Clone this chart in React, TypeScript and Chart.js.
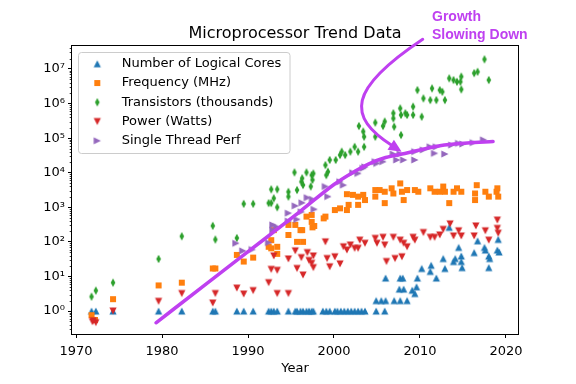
import React, { useEffect, useRef } from "react";
import { Chart, registerables } from "chart.js";

Chart.register(...registerables);

// ---------- data (year, value) ----------
const coresData: [number, number][] = [
  [1971.8, 1], [1972.3, 1], [1974.3, 1], [1979.6, 1], [1982.3, 1], [1985.9, 1], [1986.2, 1], [1988.7, 1],
  [1989.5, 1], [1990.6, 1], [1992.4, 1], [1992.7, 1], [1993.0, 1], [1993.4, 1], [1994.7, 1], [1995.5, 1],
  [1995.7, 1], [1996.1, 1], [1996.4, 1], [1996.8, 1], [1997.1, 1], [1997.4, 1], [1997.6, 1], [1998.7, 1],
  [1999.1, 1], [1999.5, 1], [2000.1, 1], [2000.4, 1], [2000.8, 1], [2001.2, 1], [2001.6, 1], [2002.0, 1],
  [2002.4, 1], [2002.8, 1], [2003.2, 1], [2003.6, 1], [2004.9, 1], [2005.9, 1],
  [2004.9, 2], [2005.5, 2], [2006.0, 2], [2007.0, 2], [2007.7, 2], [2008.5, 2],
  [2007.6, 4.3], [2008.1, 4.3], [2009.1, 4], [2009.4, 3.2], [2009.6, 5],
  [2006.0, 9], [2007.7, 9], [2008.0, 9], [2009.7, 9], [2011.9, 9],
  [2010.2, 17], [2011.3, 21], [2011.2, 14], [2012.7, 33], [2012.9, 17], [2013.9, 27], [2014.1, 33],
  [2014.5, 69], [2014.8, 39], [2014.8, 27], [2014.9, 18], [2013.4, 263], [2016.3, 49], [2016.7, 107],
  [2017.5, 69], [2017.6, 58], [2018.0, 39], [2018.1, 33], [2018.0, 18], [2019.1, 118], [2019.0, 58], [2019.2, 51],
];

const frequencyData: [number, number][] = [
  [1971.8, 0.76], [1972.2, 0.55], [1974.3, 2.2], [1979.6, 5.5], [1982.3, 6.6], [1985.9, 17], [1986.2, 17],
  [1988.7, 42], [1989.5, 27], [1990.6, 35], [1992.4, 72], [1992.7, 112], [1992.7, 65], [1993.4, 72],
  [1993.4, 45], [1993.0, 219], [1994.7, 158], [1994.7, 309], [1995.5, 309], [1996.1, 219], [1996.4, 100],
  [1996.8, 537], [1997.4, 603], [1997.5, 263], [1997.7, 288], [1995.7, 100], [1996.3, 219], [1997.4, 380],
  [1999.0, 537], [1998.8, 479], [2000.1, 832], [2000.7, 933], [2001.5, 832], [2001.7, 1175], [2001.5, 2400],
  [2002.2, 2290], [2002.8, 2040], [2002.8, 1175], [2003.4, 2290], [2003.6, 1620], [2004.8, 3160], [2004.8, 2040],
  [2005.3, 3160], [2005.9, 2820], [2005.9, 1320], [2006.7, 3550], [2006.9, 2510], [2007.7, 4900], [2007.9, 2820],
  [2008.1, 1620], [2008.5, 3160], [2009.4, 3160], [2009.8, 2820], [2011.2, 3550], [2011.7, 2820], [2012.3, 2820],
  [2012.7, 3980], [2012.9, 2820], [2013.4, 1320], [2013.9, 2820], [2014.3, 3550], [2014.8, 2820], [2016.6, 4370],
  [2016.4, 2510], [2016.4, 1620], [2017.6, 2820], [2018.0, 2040], [2018.9, 2820], [2019.1, 2040], [2019.0, 3550],
];

const transistorsData: [number, number][] = [
  [1971.8, 2.6], [1972.3, 3.9], [1974.3, 6.6], [1979.6, 32], [1982.3, 145], [1985.9, 290], [1986.2, 117],
  [1988.7, 129], [1989.5, 1260], [1990.6, 1260], [1992.4, 1320], [1992.7, 1320], [1992.7, 3300], [1993.4, 3300],
  [1993.0, 1820], [1993.4, 1000], [1994.7, 2800], [1994.7, 2040], [1995.4, 10200], [1995.7, 3160], [1996.2, 5500],
  [1996.3, 6900], [1996.8, 10200], [1996.4, 4400], [1997.4, 8500], [1997.5, 6200], [1997.6, 9500], [1997.3, 4000],
  [1999.0, 16600], [1999.5, 23400], [1999.3, 10700], [1999.1, 8500], [2000.2, 23400], [2000.7, 32400],
  [2000.9, 40700], [2001.9, 40700], [2001.3, 32400], [2002.8, 40700], [2002.4, 56000], [2003.5, 56000],
  [2002.9, 224000], [2003.4, 155000], [2003.5, 110000], [2004.8, 282000], [2004.8, 110000], [2005.7, 224000],
  [2005.9, 302000], [2006.9, 372000], [2006.9, 525000], [2007.0, 214000], [2007.8, 468000], [2007.8, 123000],
  [2007.7, 724000], [2008.3, 525000], [2008.5, 468000], [2009.2, 813000], [2009.2, 468000], [2010.2, 417000],
  [2009.7, 2450000], [2010.4, 1410000], [2011.2, 1260000], [2011.4, 2750000], [2011.9, 1260000], [2012.3, 2450000],
  [2012.6, 2190000], [2012.9, 1260000], [2013.4, 5370000], [2013.9, 4790000], [2014.3, 4270000], [2014.7, 4270000],
  [2014.8, 6030000], [2014.8, 2570000], [2016.3, 7590000], [2016.7, 8320000], [2017.5, 19000000], [2018.0, 4790000],
];

const powerData: [number, number][] = [
  [1971.9, 0.49], [1972.3, 0.46], [1972.0, 0.52], [1974.3, 1.0], [1979.6, 1.9], [1982.3, 3.2], [1985.9, 1.7],
  [1986.2, 3.2], [1988.7, 4.6], [1989.5, 3.1], [1990.6, 3.9], [1992.4, 6.6], [1992.7, 16], [1993.4, 15],
  [1993.4, 3.2], [1993.0, 39], [1994.7, 32], [1994.7, 3.2], [1995.5, 55], [1995.7, 17], [1996.2, 35],
  [1996.4, 11], [1996.9, 49], [1997.1, 29], [1997.4, 24], [1997.6, 39], [1997.6, 18],
  [1999.0, 100], [1999.2, 33], [1999.5, 19], [2000.1, 37], [2000.7, 23], [2001.1, 72], [2001.5, 58],
  [2001.9, 81], [2002.4, 65], [2002.8, 65], [2003.0, 112], [2003.6, 91], [2004.8, 126], [2005.0, 91],
  [2005.7, 135], [2005.9, 81], [2006.1, 27], [2006.9, 135], [2007.1, 33], [2007.7, 112], [2007.9, 37],
  [2008.1, 91], [2008.5, 72], [2009.2, 135], [2009.4, 112], [2010.4, 186], [2011.2, 135], [2011.7, 135],
  [2012.3, 158], [2012.7, 229], [2013.5, 331], [2013.9, 148], [2014.5, 209], [2014.8, 148], [2016.3, 148],
  [2016.5, 288], [2017.6, 209], [2018.0, 112], [2019.0, 427], [2019.0, 245], [2019.1, 178],
];

const singleThreadData: [number, number][] = [
  [1988.6, 91], [1989.4, 55], [1990.5, 60], [1992.4, 95], [1992.9, 219], [1992.9, 309], [1993.3, 275],
  [1994.7, 676], [1994.7, 398], [1995.7, 447], [1995.5, 1100], [1996.2, 741], [1996.3, 1350], [1996.9, 1900],
  [1997.5, 1700], [1997.7, 871], [1999.0, 3980], [1999.3, 2040], [2000.7, 5500], [2001.1, 4370],
  [2002.2, 10000], [2002.8, 9550], [2003.4, 13500], [2003.6, 14800], [2004.8, 20900], [2005.0, 18600],
  [2005.7, 20900], [2006.9, 34700], [2007.3, 23400], [2008.1, 23400], [2009.4, 23400], [2007.7, 34700],
  [2009.4, 40700], [2010.4, 45700], [2011.2, 56200], [2011.7, 36300], [2011.9, 56200], [2012.9, 34700],
  [2013.7, 63100], [2014.5, 70800], [2015.0, 67600], [2016.2, 74100], [2017.4, 89100],
];

// trend curve ("growth slowing down")
const trendYears = [1979.3, 1985, 1990, 1996, 2000, 2002, 2004, 2006, 2008.6, 2012.3, 2015.5, 2018.5];
const trendValues = [0.457, 5.68, 51.8, 741, 4570, 9550, 17800, 27500, 38000, 60300, 72400, 79400];

// annotation arrow (bezier control points in data coordinates)
const arrowYears = [2010.32, 2001.59, 2001.48, 2007.87];
const arrowValues = [7.23e7, 2.58e6, 4.17e5, 4.05e4];

const seriesLabels = [
  "Number of Logical Cores",
  "Frequency (MHz)",
  "Transistors (thousands)",
  "Power (Watts)",
  "Single Thread Perf",
];
const seriesColors = ["#1f77b4", "#ff7f0e", "#2ca02c", "#d62728", "#9467bd"];
const seriesMarkers = ["up", "square", "thinDiamond", "down", "right"];

const xTickValues = [1970, 1980, 1990, 2000, 2010, 2020];
const yTickExponents = [0, 1, 2, 3, 4, 5, 6, 7];

const titleText = "Microprocessor Trend Data";
const xAxisLabel = "Year";
const annotationLines = ["Growth", "Slowing Down"];

const X_MIN = 1969.53;
const X_MAX = 2021.4;
const Y_MIN = Math.pow(10, -0.665);
const Y_MAX = Math.pow(10, 7.665);

const ACCENT = "#bf40f0";
const FONT = "DejaVu Sans";

const SUP: Record<string, string> = {
  "0": "\u2070", "1": "\u00b9", "2": "\u00b2", "3": "\u00b3", "4": "\u2074",
  "5": "\u2075", "6": "\u2076", "7": "\u2077", "8": "\u2078", "9": "\u2079", "-": "\u207b",
};
const sup = (n: number) => String(n).split("").map((c) => SUP[c] || c).join("");

function makeMarker(kind: string, color: string): HTMLCanvasElement {
  const S = 12;
  const c = document.createElement("canvas");
  c.width = S;
  c.height = S;
  const g = c.getContext("2d")!;
  g.fillStyle = color;
  g.translate(S / 2, S / 2);
  g.beginPath();
  const t = 3.6;
  switch (kind) {
    case "up":
      g.moveTo(0, -t); g.lineTo(t, t); g.lineTo(-t, t);
      break;
    case "down":
      g.moveTo(0, t); g.lineTo(-t, -t); g.lineTo(t, -t);
      break;
    case "right":
      g.moveTo(t, 0); g.lineTo(-t, -t); g.lineTo(-t, t);
      break;
    case "square":
      g.rect(-3, -3, 6, 6);
      break;
    case "thinDiamond":
      g.moveTo(0, -4.2); g.lineTo(2.3, 0); g.lineTo(0, 4.2); g.lineTo(-2.3, 0);
      break;
  }
  g.closePath();
  g.fill();
  return c;
}

export default function App() {
  const ref = useRef<HTMLCanvasElement>(null);

  useEffect(() => {
    const canvas = ref.current;
    if (!canvas) return;
    const markers = seriesMarkers.map((m, i) => makeMarker(m, seriesColors[i]));
    const allSeries = [coresData, frequencyData, transistorsData, powerData, singleThreadData];

    const datasets: any[] = allSeries.map((d, i) => ({
      label: seriesLabels[i],
      data: d.map(([x, y]) => ({ x, y })),
      pointStyle: markers[i],
      pointRadius: 3,
      backgroundColor: seriesColors[i],
      borderColor: seriesColors[i],
      showLine: false,
      order: 5 - i,
    }));
    datasets.push({
      label: "trend",
      data: trendYears.map((x, i) => ({ x, y: trendValues[i] })),
      showLine: true,
      pointRadius: 0,
      borderColor: ACCENT,
      backgroundColor: ACCENT,
      borderWidth: 3.5,
      borderCapStyle: "round",
      cubicInterpolationMode: "monotone",
      fill: false,
      order: 0,
    });

    const decor = {
      id: "decor",
      afterDatasetsDraw(chart: any) {
        const { ctx, chartArea: a, scales } = chart;
        const xs = scales.x;
        const ys = scales.y;
        ctx.save();

        // minor ticks on log axis
        ctx.strokeStyle = "#000";
        ctx.lineWidth = 0.8;
        ctx.beginPath();
        const e0 = Math.floor(Math.log10(ys.min));
        const e1 = Math.ceil(Math.log10(ys.max));
        for (let e = e0; e <= e1; e++) {
          for (let k = 2; k <= 9; k++) {
            const v = k * Math.pow(10, e);
            if (v < ys.min || v > ys.max) continue;
            const py = Math.round(ys.getPixelForValue(v)) + 0.5;
            ctx.moveTo(a.left, py);
            ctx.lineTo(a.left - 2.3, py);
          }
        }
        ctx.stroke();

        // frame
        ctx.lineWidth = 1;
        ctx.strokeStyle = "#000";
        ctx.strokeRect(a.left - 0.5, a.top - 0.5, a.right - a.left + 1, a.bottom - a.top + 1);

        // title
        ctx.fillStyle = "#000";
        ctx.font = `16px "${FONT}"`;
        ctx.textAlign = "center";
        ctx.textBaseline = "alphabetic";
        ctx.fillText(titleText, (a.left + a.right) / 2, 38);

        // legend
        const lx = 78.5, ly = 52.5, lw = 211.5, lh = 101, r = 3;
        ctx.beginPath();
        ctx.moveTo(lx + r, ly);
        ctx.lineTo(lx + lw - r, ly);
        ctx.arcTo(lx + lw, ly, lx + lw, ly + r, r);
        ctx.lineTo(lx + lw, ly + lh - r);
        ctx.arcTo(lx + lw, ly + lh, lx + lw - r, ly + lh, r);
        ctx.lineTo(lx + r, ly + lh);
        ctx.arcTo(lx, ly + lh, lx, ly + lh - r, r);
        ctx.lineTo(lx, ly + r);
        ctx.arcTo(lx, ly, lx + r, ly, r);
        ctx.closePath();
        ctx.fillStyle = "rgba(255,255,255,0.8)";
        ctx.fill();
        ctx.strokeStyle = "#cccccc";
        ctx.lineWidth = 1;
        ctx.stroke();
        ctx.font = `13px "${FONT}"`;
        ctx.textAlign = "left";
        ctx.textBaseline = "middle";
        ctx.fillStyle = "#000";
        seriesLabels.forEach((lab, i) => {
          const rowY = 63.8 + i * 19.25;
          ctx.drawImage(markers[i], 97.3 - 6, rowY - 6);
          ctx.fillText(lab, 121.7, rowY);
        });

        // arrow
        const pts = arrowYears.map((yr, i) => ({
          px: xs.getPixelForValue(yr),
          py: ys.getPixelForValue(arrowValues[i]),
        }));
        const [p0, p1, p2, p3] = pts;
        let dx = p3.px - p2.px;
        let dy = p3.py - p2.py;
        const len = Math.hypot(dx, dy);
        dx /= len;
        dy /= len;
        const headLen = 13, headHalf = 6;
        const bx = p3.px - dx * headLen;
        const by = p3.py - dy * headLen;
        ctx.strokeStyle = ACCENT;
        ctx.fillStyle = ACCENT;
        ctx.lineWidth = 3;
        ctx.lineCap = "round";
        ctx.beginPath();
        ctx.moveTo(p0.px, p0.py);
        ctx.bezierCurveTo(p1.px, p1.py, p2.px, p2.py, bx + dx * 2, by + dy * 2);
        ctx.stroke();
        ctx.beginPath();
        ctx.moveTo(p3.px, p3.py);
        ctx.lineTo(bx - dy * headHalf, by + dx * headHalf);
        ctx.lineTo(bx + dy * headHalf, by - dx * headHalf);
        ctx.closePath();
        ctx.fill();

        // annotation text
        ctx.font = `bold 14px "Liberation Sans"`;
        ctx.textAlign = "left";
        ctx.textBaseline = "alphabetic";
        ctx.fillText(annotationLines[0], 432, 21);
        ctx.fillText(annotationLines[1], 432, 39);

        ctx.restore();
      },
    };

    const tickGrid = {
      display: true,
      drawOnChartArea: false,
      drawTicks: true,
      tickLength: 4,
      tickColor: "#000",
      tickWidth: 1,
    };

    const chart = new Chart(canvas, {
      type: "scatter",
      data: { datasets },
      options: {
        animation: false,
        responsive: false,
        events: [],
        layout: { padding: { left: 0, top: 46, right: 58, bottom: 0 } },
        plugins: {
          legend: { display: false },
          tooltip: { enabled: false },
          title: { display: false },
        },
        scales: {
          x: {
            type: "linear",
            min: X_MIN,
            max: X_MAX,
            afterBuildTicks: (s: any) => {
              s.ticks = xTickValues.map((v) => ({ value: v }));
            },
            afterFit: (s: any) => {
              s.height = 50;
            },
            grid: tickGrid,
            border: { display: false },
            ticks: {
              color: "#000",
              font: { family: FONT, size: 13 },
              padding: 5.5,
              maxRotation: 0,
              autoSkip: false,
              callback: (v: any) => String(v),
            },
            title: {
              display: true,
              text: xAxisLabel,
              color: "#000",
              font: { family: FONT, size: 13 },
              padding: { top: 0, bottom: 7.4 },
            },
          },
          y: {
            type: "logarithmic",
            min: Y_MIN,
            max: Y_MAX,
            afterBuildTicks: (s: any) => {
              s.ticks = yTickExponents.map((e) => ({ value: Math.pow(10, e) }));
            },
            afterFit: (s: any) => {
              s.width = 72;
            },
            grid: tickGrid,
            border: { display: false },
            ticks: {
              color: "#000",
              font: { family: FONT, size: 13 },
              padding: 3,
              autoSkip: false,
              callback: (v: any) => "10" + sup(Math.round(Math.log10(Number(v)))),
            },
          },
        },
      } as any,
      plugins: [decor],
    });

    return () => chart.destroy();
  }, []);

  return (
    <div style={{ position: "fixed", left: 0, top: 0, width: 576, height: 384, background: "#fff" }}>
      <canvas ref={ref} width={576} height={384} style={{ display: "block", width: 576, height: 384 }} />
    </div>
  );
}
